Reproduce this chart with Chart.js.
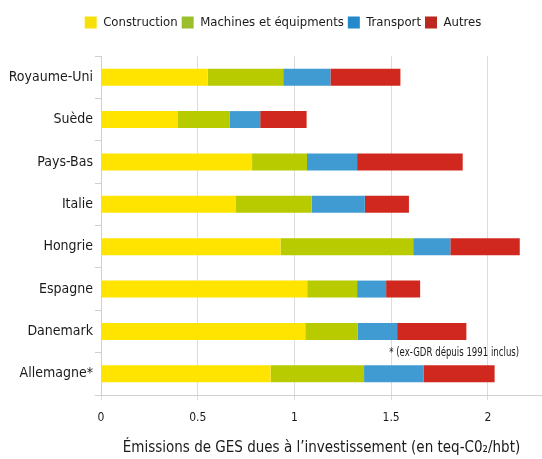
<!DOCTYPE html>
<html>
<head>
<meta charset="utf-8">
<script src="https://cdn.jsdelivr.net/npm/chart.js@4/dist/chart.umd.min.js"></script>
<style>
html,body{margin:0;padding:0;background:#fff;}
#wrap{width:542px;height:459px;position:relative;}
</style>
</head>
<body>
<div id="wrap"><canvas id="c" width="542" height="459"></canvas></div>
<script>
const categories = ['Royaume-Uni','Suède','Pays-Bas','Italie','Hongrie','Espagne','Danemark','Allemagne*'];
const seriesNames = ['Construction','Machines et équipments','Transport','Autres'];
const construction = [0.552,0.395,0.781,0.695,0.928,1.066,1.056,0.877];
const machines     = [0.390,0.269,0.284,0.394,0.686,0.258,0.270,0.483];
const transport    = [0.244,0.159,0.259,0.275,0.192,0.150,0.205,0.309];
const autres       = [0.362,0.240,0.546,0.228,0.359,0.176,0.358,0.366];
const xTicks = [0,0.5,1,1.5,2];
const xTitle = 'Émissions de GES dues à l\u2019investissement (en teq-C0\u2082/hbt)';
const footnote = '* (ex-GDR dépuis 1991 inclus)';

const barColors = ['#FFE400','#B8CB00','#3F9BD2','#D0281F'];
const legendColors = ['#F7E00A','#9BBF2B','#2389CB','#BB281D'];
const FONT = "'DejaVu Sans Condensed','Liberation Sans Narrow',sans-serif";
const TXT = '#1a1a1a';

const layoutPlugin = {
  id: 'layoutTweaks',
  beforeLayout(chart) {
    const lg = chart.legend;
    if (lg && !lg._wrapped) {
      const f = lg.fit.bind(lg);
      lg.fit = function(){ f(); this.height += 17; };
      lg._wrapped = true;
    }
  },
  afterLayout(chart) {
    const lg = chart.legend;
    if (lg) { lg.left += 12; lg.right += 12; }
  },
  afterDatasetsDraw(chart) {
    const ctx = chart.ctx;
    const xs = chart.scales.x, ys = chart.scales.y;
    const x0 = xs.getPixelForValue(1.49);
    const y0 = (ys.getPixelForValue(6) + ys.getPixelForValue(7)) / 2;
    ctx.save();
    ctx.font = '11.5px ' + FONT;
    ctx.fillStyle = TXT;
    ctx.textAlign = 'left';
    ctx.textBaseline = 'middle';
    ctx.translate(x0, y0);
    ctx.scale(0.83, 1);
    ctx.fillText(footnote, 0, 0);
    ctx.restore();
  }
};

const values = [construction, machines, transport, autres];
new Chart(document.getElementById('c'), {
  type: 'bar',
  data: {
    labels: categories,
    datasets: seriesNames.map((n, i) => ({
      label: n,
      data: values[i],
      backgroundColor: barColors[i],
      borderWidth: 0,
      barPercentage: 0.4,
      categoryPercentage: 1
    }))
  },
  options: {
    indexAxis: 'y',
    responsive: false,
    animation: false,
    devicePixelRatio: 1,
    layout: { padding: { top: 12, left: 0, right: 0, bottom: 0 } },
    plugins: {
      tooltip: { enabled: false },
      legend: {
        position: 'top',
        align: 'center',
        labels: {
          boxWidth: 12, boxHeight: 12, padding: 4,
          color: TXT,
          font: { family: FONT, size: 13 },
          generateLabels(chart) {
            return chart.data.datasets.map((d, i) => ({
              text: d.label, fillStyle: legendColors[i], strokeStyle: legendColors[i],
              lineWidth: 0, hidden: false, datasetIndex: i, fontColor: TXT
            }));
          }
        }
      }
    },
    scales: {
      x: {
        type: 'linear', stacked: true, min: 0, max: 2.28,
        afterBuildTicks(scale) { scale.ticks = xTicks.map(v => ({ value: v })); },
        afterFit(scale) { scale.height = 64; },
        grid: { color: '#dcdcdc', lineWidth: 1, tickLength: 5 },
        border: { color: '#d0d0d0' },
        ticks: { color: TXT, font: { family: FONT, size: 12 }, padding: 11,
                 callback: v => String(v) },
        title: { display: true, text: xTitle, color: TXT,
                 font: { family: FONT, size: 15 }, padding: { top: 0, bottom: 2 } }
      },
      y: {
        stacked: true,
        afterFit(scale) { scale.width = 101; },
        grid: { offset: true, drawOnChartArea: false, color: '#d0d0d0', tickLength: 6 },
        border: { color: '#d0d0d0' },
        ticks: { color: TXT, font: { family: FONT, size: 14 }, padding: 2 }
      }
    }
  },
  plugins: [layoutPlugin]
});
</script>
</body>
</html>
